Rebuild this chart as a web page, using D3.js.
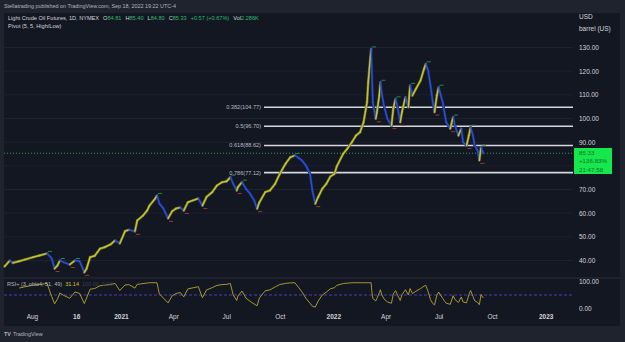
<!DOCTYPE html>
<html>
<head>
<meta charset="utf-8">
<script src="https://cdn.jsdelivr.net/npm/d3@7"></script>
<style>
html, body { margin: 0; padding: 0; background: #1f232e; }
svg { display: block; font-family: "Liberation Sans", Arial, sans-serif; }
</style>
</head>
<body>
<div id="chart"></div>
<script>
//
// Light crude oil daily chart with fib levels and RSI pane
//

// daily closes
var dates = ["2020-06-15", "2020-06-24", "2020-06-29", "2020-07-10", "2020-07-20", "2020-08-03", "2020-08-14", "2020-08-27",
    "2020-09-04", "2020-09-09", "2020-09-14", "2020-09-18", "2020-09-25", "2020-10-05", "2020-10-14", "2020-10-22",
    "2020-10-30", "2020-11-03", "2020-11-09", "2020-11-17", "2020-11-26", "2020-12-04", "2020-12-14", "2020-12-22",
    "2020-12-30", "2021-01-08", "2021-01-15", "2021-01-25", "2021-01-29", "2021-02-08", "2021-02-15", "2021-02-19",
    "2021-03-01", "2021-03-04", "2021-03-08", "2021-03-15", "2021-03-23", "2021-03-30", "2021-04-06", "2021-04-13",
    "2021-04-19", "2021-04-26", "2021-05-05", "2021-05-14", "2021-05-21", "2021-05-28", "2021-06-07", "2021-06-15",
    "2021-06-24", "2021-07-02", "2021-07-08", "2021-07-13", "2021-07-19", "2021-07-21", "2021-07-28", "2021-08-04",
    "2021-08-11", "2021-08-18", "2021-08-23", "2021-08-27", "2021-09-06", "2021-09-14", "2021-09-23", "2021-10-01",
    "2021-10-11", "2021-10-19", "2021-10-27", "2021-11-02", "2021-11-08", "2021-11-15", "2021-11-22", "2021-11-26",
    "2021-12-01", "2021-12-06", "2021-12-13", "2021-12-20", "2021-12-27", "2022-01-03", "2022-01-07", "2022-01-18",
    "2022-01-25", "2022-02-02", "2022-02-09", "2022-02-16", "2022-02-22", "2022-02-28", "2022-03-02", "2022-03-07",
    "2022-03-08", "2022-03-10", "2022-03-15", "2022-03-17", "2022-03-21", "2022-03-23", "2022-03-25", "2022-03-29",
    "2022-04-04", "2022-04-11", "2022-04-14", "2022-04-18", "2022-04-22", "2022-04-26", "2022-04-29", "2022-05-05",
    "2022-05-10", "2022-05-13", "2022-05-17", "2022-05-23", "2022-05-31", "2022-06-06", "2022-06-09", "2022-06-13",
    "2022-06-17", "2022-06-21", "2022-06-24", "2022-06-28", "2022-07-01", "2022-07-08", "2022-07-12", "2022-07-14",
    "2022-07-21", "2022-07-26", "2022-07-29", "2022-08-04", "2022-08-09", "2022-08-12", "2022-08-18", "2022-08-22",
    "2022-08-25", "2022-08-29", "2022-09-01", "2022-09-06", "2022-09-09", "2022-09-12", "2022-09-15", "2022-09-16"];

var closes = [37.5, 40.0, 39.0, 39.7, 40.4, 41.4, 42.1, 43.0,
    40.9, 36.6, 37.9, 40.0, 39.2, 38.3, 40.0, 39.7,
    35.0, 36.6, 41.4, 42.0, 45.0, 45.6, 46.8, 48.5,
    47.2, 52.4, 53.0, 52.3, 56.9, 59.0, 61.1, 63.2,
    66.2, 67.5, 64.1, 62.0, 57.8, 60.8, 62.0, 62.4,
    61.1, 64.6, 65.4, 66.2, 63.2, 66.8, 68.9, 71.7,
    73.1, 73.5, 75.2, 72.4, 69.6, 71.0, 73.1, 70.3,
    68.2, 65.4, 61.9, 64.6, 68.9, 69.6, 72.4, 76.6,
    80.9, 83.6, 84.4, 83.4, 82.3, 80.1, 76.6, 69.6,
    64.0, 66.8, 70.3, 72.4, 75.5, 76.6, 79.8, 85.1,
    87.2, 90.0, 92.8, 94.2, 98.4, 106.9, 115.3, 129.4,
    121.0, 106.9, 99.9, 102.7, 109.7, 115.3, 111.1, 105.5,
    99.9, 97.0, 104.1, 108.3, 104.1, 98.4, 102.7, 109.0,
    104.8, 114.0, 109.7, 112.5, 116.1, 121.0, 123.1, 120.3,
    114.0, 106.9, 102.7, 109.7, 113.2, 106.9, 101.3, 98.4,
    95.7, 100.6, 97.0, 92.8, 95.7, 90.0, 88.6, 92.8,
    96.3, 92.8, 88.6, 86.5, 82.3, 87.9, 85.8, 85.3];

var priceTicks = [40, 50, 60, 70, 80, 90, 100, 110, 120, 130];
var fibRatios = ["0.382", "0.5", "0.618", "0.786"];
var fibPrices = [104.77, 96.70, 88.62, 77.12];
var timeTicks = ["2020-08-01", "2020-10-16", "2021-01-01", "2021-04-01", "2021-07-01", "2021-10-01",
    "2022-01-01", "2022-04-01", "2022-07-01", "2022-10-01", "2023-01-01"];
var timeLabels = ["Aug", "16", "2021", "Apr", "Jul", "Oct", "2022", "Apr", "Jul", "Oct", "2023"];
var lastPrice = 85.33;

const _width = 625;
const _height = 342;
const _panelLeft = 4, _panelRight = 620, _panelTop = 13, _panelBottom = 326;
const _plotRight = 573;

var _upColor = "#c4c436";
var _downColor = "#2b4fd0";
var _textColor = "#d1d4dc";
var _greenText = "#2dbd6e";

var parseDate = d3.timeParse("%Y-%m-%d");
var series = dates.map(function (d, i) { return { date: parseDate(d), close: closes[i] }; });

var svg = d3.select("#chart")
    .append("svg")
    .attr("width", _width)
    .attr("height", _height);

svg.append("rect").attr("width", _width).attr("height", _height).attr("fill", "#1f232e");
svg.append("rect")
    .attr("x", _panelLeft).attr("y", _panelTop)
    .attr("width", _panelRight - _panelLeft).attr("height", _panelBottom - _panelTop)
    .attr("fill", "#131722");

// scales
var x = d3.scaleTime()
    .domain([parseDate("2020-06-14"), parseDate("2023-02-17")])
    .range([_panelLeft, _plotRight]);
var y = d3.scaleLinear().domain([40, 130]).range([260.5, 47.5]);
var yRsi = d3.scaleLinear().domain([0, 100]).range([308.3, 281.7]);

// grid
svg.append("g").selectAll("line")
    .data(priceTicks)
    .join("line")
    .attr("x1", _panelLeft).attr("x2", _plotRight)
    .attr("y1", d => y(d)).attr("y2", d => y(d))
    .attr("stroke", "#1d2130").attr("stroke-width", 1);

// pane separator
svg.append("line")
    .attr("x1", _panelLeft).attr("x2", _panelRight)
    .attr("y1", 278).attr("y2", 278)
    .attr("stroke", "#2a2e39").attr("stroke-width", 1);

// price axis
var yAxis = d3.axisRight(y).tickValues(priceTicks.filter(d => d != 80)).tickSize(0).tickPadding(6)
    .tickFormat(d3.format(".2f"));
var gy = svg.append("g").attr("transform", "translate(" + _plotRight + ",0)").call(yAxis);
gy.select(".domain").remove();
gy.selectAll("text").attr("fill", _textColor).style("font-size", "6.5px");

svg.append("text").attr("x", 579).attr("y", 19).attr("fill", _textColor).style("font-size", "6.5px").text("USD");
svg.append("text").attr("x", 579).attr("y", 31).attr("fill", _textColor).style("font-size", "6.5px").text("barrel (US)");

// RSI axis
var rAxis = d3.axisRight(yRsi).tickValues([0, 100]).tickSize(0).tickPadding(6).tickFormat(d3.format(".2f"));
var gr = svg.append("g").attr("transform", "translate(" + _plotRight + ",0)").call(rAxis);
gr.select(".domain").remove();
gr.selectAll("text").attr("fill", _textColor).style("font-size", "6.5px");

// time axis
var xAxis = d3.axisBottom(x).tickValues(timeTicks.map(parseDate)).tickSize(0).tickPadding(0)
    .tickFormat((d, i) => timeLabels[i]);
var gx = svg.append("g").attr("transform", "translate(0,314)").call(xAxis);
gx.select(".domain").remove();
gx.selectAll("text")
    .attr("fill", _textColor)
    .style("font-size", "6.5px")
    .attr("font-weight", (d, i) => /^\d{4}$|^16$/.test(timeLabels[i]) ? "bold" : "normal");

// fib levels
var fib = svg.append("g").selectAll("g").data(fibPrices).join("g");
fib.append("line")
    .attr("x1", 264).attr("x2", _plotRight)
    .attr("y1", d => y(d)).attr("y2", d => y(d))
    .attr("stroke", "#d6d8de").attr("stroke-width", 1.6);
fib.append("text")
    .attr("x", 261).attr("y", d => y(d)).attr("dy", "0.35em")
    .attr("text-anchor", "end")
    .attr("fill", "#b8bbc4").style("font-size", "5.6px")
    .text((d, i) => fibRatios[i] + "(" + d.toFixed(2) + ")");

// last price dotted line
svg.append("line")
    .attr("x1", _panelLeft).attr("x2", _plotRight)
    .attr("y1", y(lastPrice)).attr("y2", y(lastPrice))
    .attr("stroke", "#1fa653").attr("stroke-width", 1).attr("stroke-dasharray", "1,2");

// price segments, yellow when rising, blue when falling
var segs = d3.pairs(series);
var pg = svg.append("g");
pg.selectAll("line.shadow")
    .data(segs)
    .join("line")
    .attr("class", "shadow")
    .attr("x1", d => x(d[0].date)).attr("y1", d => y(d[0].close))
    .attr("x2", d => x(d[1].date)).attr("y2", d => y(d[1].close))
    .attr("stroke", d => d[1].close >= d[0].close ? "#6b6b22" : "#1a2d78")
    .attr("stroke-width", 2.6)
    .attr("stroke-linecap", "round");
pg.selectAll("line.seg")
    .data(segs)
    .join("line")
    .attr("class", "seg")
    .attr("x1", d => x(d[0].date)).attr("y1", d => y(d[0].close))
    .attr("x2", d => x(d[1].date)).attr("y2", d => y(d[1].close))
    .attr("stroke", d => d[1].close >= d[0].close ? _upColor : _downColor)
    .attr("stroke-width", 1.4)
    .attr("stroke-linecap", "round");

// pivot markers (local highs / lows, 2 points each side)
var pivots = [];
series.forEach(function (d, i) {
    if (i < 2 || i > series.length - 3) return;
    var around = series.slice(i - 2, i + 3).map(p => p.close);
    if (d.close == d3.max(around)) pivots.push({ d: d, high: true });
    if (d.close == d3.min(around)) pivots.push({ d: d, high: false });
});
svg.append("g").selectAll("line")
    .data(pivots)
    .join("line")
    .attr("x1", p => x(p.d.date) + 1).attr("x2", p => x(p.d.date) + 5)
    .attr("y1", p => y(p.d.close) + (p.high ? -2 : 3)).attr("y2", p => y(p.d.close) + (p.high ? -2 : 3))
    .attr("stroke", p => p.high ? "#1e8c4a" : "#a83232")
    .attr("stroke-width", 1);

// last price label
var box = svg.append("g").attr("transform", "translate(574,148)");
box.append("rect").attr("width", 38).attr("height", 26).attr("fill", "#14e84c");
box.selectAll("text")
    .data([lastPrice.toFixed(2), "+136.83%", "21:47:58"])
    .join("text")
    .attr("x", 5).attr("y", (d, i) => 7 + i * 8.3)
    .attr("fill", "#166b2c")
    .style("font-size", "6.2px")
    .text(d => d);

// RSI(3) of the closes above
var rsi = [];
var avgGain = 0, avgLoss = 0;
for (var i = 1; i < closes.length; i++) {
    var ch = closes[i] - closes[i - 1];
    var g = Math.max(ch, 0), l = Math.max(-ch, 0);
    if (i <= 3) {
        avgGain += g / 3; avgLoss += l / 3;
        if (i < 3) continue;
    } else {
        avgGain = (avgGain * 2 + g) / 3;
        avgLoss = (avgLoss * 2 + l) / 3;
    }
    var v = avgLoss == 0 ? 100 : 100 - 100 / (1 + avgGain / avgLoss);
    rsi.push({ date: series[i].date, v: v });
}

svg.append("line")
    .attr("x1", _panelLeft).attr("x2", _plotRight)
    .attr("y1", yRsi(50)).attr("y2", yRsi(50))
    .attr("stroke", "#4a3fb0").attr("stroke-width", 1).attr("stroke-dasharray", "3,2");

var rsiLine = d3.line().x(d => x(d.date)).y(d => yRsi(Math.max(4, Math.min(96, d.v))));
svg.append("path")
    .datum(rsi)
    .attr("fill", "none")
    .attr("stroke", "#b5a630")
    .attr("stroke-width", 0.9)
    .attr("d", rsiLine);

// RSI legend
var rl = svg.append("text").attr("x", 7).attr("y", 286).style("font-size", "5.5px");
rl.append("tspan").attr("fill", "#b2b5be").text("RSI+ (3, ohlc4, 51, 49)");
rl.append("tspan").attr("fill", "#d4c43a").attr("dx", 3).text("31.14");
rl.append("tspan").attr("fill", "#3a3f56").attr("dx", 3).text("100.00");
rl.append("tspan").attr("fill", "#3a3f56").attr("dx", 3).text("0.00");

// headers
svg.append("text").attr("x", 4).attr("y", 8).attr("fill", "#b2b5be").style("font-size", "5.4px")
    .text("Stellatrading published on TradingView.com, Sep 18, 2022 19:22 UTC-4");

var lg = svg.append("text").attr("x", 8).attr("y", 19.5).style("font-size", "5.6px").attr("fill", _textColor);
lg.append("tspan").text("Light Crude Oil Futures, 1D, NYMEX");
[["O", "84.81"], ["H", "85.40"], ["L", "84.80"], ["C", "85.33"]].forEach(function (p) {
    lg.append("tspan").attr("dx", 4).text(p[0]);
    lg.append("tspan").attr("fill", _greenText).text(p[1]);
});
lg.append("tspan").attr("dx", 4).attr("fill", _greenText).text("+0.57 (+0.67%)");
lg.append("tspan").attr("dx", 4).text("Vol");
lg.append("tspan").attr("fill", _greenText).text("2.286K");

svg.append("text").attr("x", 8).attr("y", 27.5).style("font-size", "5.6px").attr("fill", _textColor)
    .text("Pivot (5, 5, High/Low)");

// footer logo
var ft = svg.append("text").attr("x", 4).attr("y", 336).style("font-size", "5.4px").attr("fill", "#b2b5be");
ft.append("tspan").attr("font-weight", "bold").text("TV");
ft.append("tspan").attr("dx", 2).text("TradingView");
</script>
</body>
</html>
